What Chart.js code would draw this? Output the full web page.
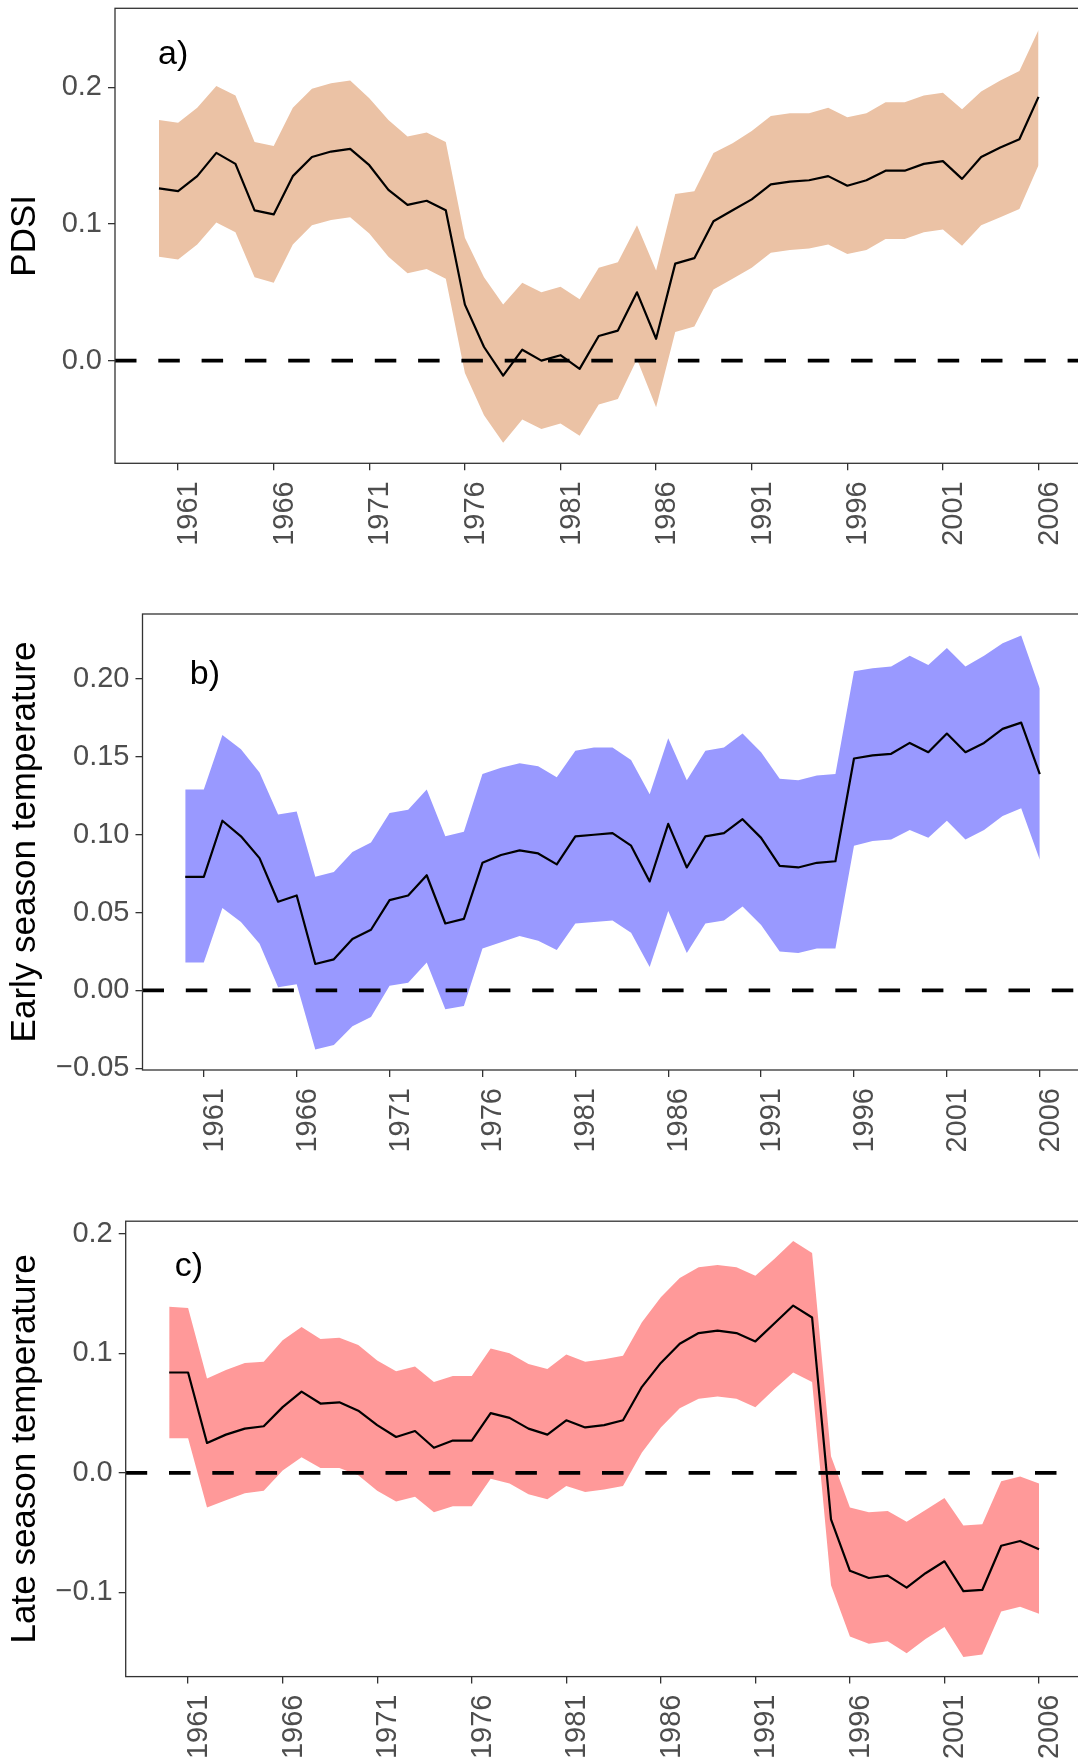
<!DOCTYPE html>
<html>
<head>
<meta charset="utf-8">
<title>PDSI and season temperature</title>
<script src="https://cdn.jsdelivr.net/npm/chart.js@4.4.1/dist/chart.umd.min.js"></script>
<style>
  html, body { margin: 0; padding: 0; background: #fff; width: 1078px; height: 1761px; overflow: hidden; }
  .panel { position: absolute; left: 0; }
  .panel canvas { display: block; }
</style>
</head>
<body>
<div class="panel" style="top:0"><canvas id="pdsiChart" width="1090" height="545"></canvas></div>
<div class="panel" style="top:560px"><canvas id="earlyChart" width="1090" height="600"></canvas></div>
<div class="panel" style="top:1165px"><canvas id="lateChart" width="1090" height="596"></canvas></div>
<script>
const years = [1960, 1961, 1962, 1963, 1964, 1965, 1966, 1967, 1968, 1969, 1970, 1971, 1972, 1973, 1974, 1975,
  1976, 1977, 1978, 1979, 1980, 1981, 1982, 1983, 1984, 1985, 1986, 1987, 1988, 1989, 1990, 1991,
  1992, 1993, 1994, 1995, 1996, 1997, 1998, 1999, 2000, 2001, 2002, 2003, 2004, 2005, 2006];
const yearTicks = [1961, 1966, 1971, 1976, 1981, 1986, 1991, 1996, 2001, 2006];

// a) PDSI
const pdsiMean = [0.126, 0.124, 0.135, 0.152, 0.144, 0.110, 0.107, 0.135, 0.149, 0.153, 0.155, 0.143, 0.125, 0.114, 0.117, 0.110,
  0.041, 0.010, -0.011, 0.008, 0.000, 0.004, -0.006, 0.018, 0.022, 0.050, 0.016, 0.071, 0.075, 0.102, 0.110, 0.118,
  0.129, 0.131, 0.132, 0.135, 0.128, 0.132, 0.139, 0.139, 0.144, 0.146, 0.133, 0.149, 0.156, 0.162, 0.193];
const pdsiUpper = [0.176, 0.174, 0.185, 0.201, 0.194, 0.160, 0.157, 0.185, 0.199, 0.203, 0.205, 0.192, 0.176, 0.164, 0.167, 0.160,
  0.090, 0.061, 0.041, 0.057, 0.050, 0.054, 0.045, 0.068, 0.072, 0.099, 0.066, 0.122, 0.124, 0.152, 0.159, 0.168,
  0.179, 0.181, 0.181, 0.185, 0.178, 0.181, 0.189, 0.189, 0.194, 0.196, 0.184, 0.197, 0.205, 0.212, 0.242];
const pdsiLower = [0.076, 0.074, 0.085, 0.101, 0.094, 0.061, 0.057, 0.085, 0.099, 0.103, 0.105, 0.093, 0.076, 0.064, 0.067, 0.060,
  -0.009, -0.040, -0.060, -0.043, -0.050, -0.046, -0.055, -0.032, -0.028, 0.001, -0.034, 0.021, 0.025, 0.052, 0.060, 0.068,
  0.079, 0.081, 0.082, 0.085, 0.078, 0.081, 0.089, 0.089, 0.094, 0.096, 0.084, 0.099, 0.105, 0.111, 0.143];
const pdsiTicks = [0, 0.1, 0.2];

// b) early season temperature
const earlyMean = [0.073, 0.073, 0.109, 0.099, 0.085, 0.057, 0.061, 0.017, 0.020, 0.033, 0.039, 0.058, 0.061, 0.074, 0.043, 0.046,
  0.082, 0.087, 0.090, 0.088, 0.081, 0.099, 0.100, 0.101, 0.093, 0.070, 0.107, 0.079, 0.099, 0.101, 0.110, 0.098,
  0.080, 0.079, 0.082, 0.083, 0.149, 0.151, 0.152, 0.159, 0.153, 0.165, 0.153, 0.159, 0.168, 0.172, 0.139];
const earlyUpper = [0.129, 0.129, 0.164, 0.155, 0.140, 0.113, 0.115, 0.073, 0.076, 0.089, 0.095, 0.114, 0.116, 0.129, 0.099, 0.102,
  0.139, 0.143, 0.146, 0.144, 0.137, 0.154, 0.156, 0.156, 0.148, 0.126, 0.162, 0.135, 0.154, 0.156, 0.165, 0.153,
  0.136, 0.135, 0.138, 0.139, 0.205, 0.207, 0.208, 0.215, 0.209, 0.220, 0.208, 0.215, 0.223, 0.228, 0.194];
const earlyLower = [0.018, 0.018, 0.053, 0.044, 0.030, 0.002, 0.004, -0.038, -0.035, -0.023, -0.017, 0.003, 0.005, 0.018, -0.012, -0.010,
  0.027, 0.031, 0.035, 0.032, 0.026, 0.043, 0.044, 0.045, 0.037, 0.015, 0.051, 0.024, 0.043, 0.045, 0.054, 0.042,
  0.025, 0.024, 0.027, 0.027, 0.093, 0.096, 0.097, 0.103, 0.098, 0.109, 0.097, 0.103, 0.112, 0.117, 0.084];
const earlyTicks = [-0.05, 0, 0.05, 0.1, 0.15, 0.2];

// c) late season temperature
const lateMean = [0.084, 0.084, 0.025, 0.032, 0.037, 0.039, 0.055, 0.068, 0.058, 0.059, 0.052, 0.040, 0.030, 0.035, 0.021, 0.027,
  0.027, 0.050, 0.046, 0.037, 0.032, 0.044, 0.038, 0.040, 0.044, 0.072, 0.092, 0.108, 0.117, 0.119, 0.117, 0.110,
  0.125, 0.140, 0.130, -0.039, -0.082, -0.088, -0.086, -0.096, -0.084, -0.074, -0.099, -0.098, -0.061, -0.057, -0.064];
const lateUpper = [0.139, 0.138, 0.079, 0.086, 0.092, 0.093, 0.111, 0.122, 0.112, 0.113, 0.107, 0.094, 0.085, 0.089, 0.076, 0.081,
  0.081, 0.104, 0.100, 0.091, 0.087, 0.099, 0.093, 0.095, 0.098, 0.126, 0.147, 0.163, 0.172, 0.174, 0.172, 0.165,
  0.179, 0.194, 0.184, 0.014, -0.029, -0.033, -0.032, -0.041, -0.031, -0.021, -0.044, -0.043, -0.007, -0.003, -0.009];
const lateLower = [0.029, 0.029, -0.029, -0.023, -0.017, -0.015, 0.002, 0.013, 0.004, 0.004, -0.002, -0.015, -0.024, -0.020, -0.033, -0.028,
  -0.028, -0.005, -0.009, -0.018, -0.022, -0.011, -0.016, -0.014, -0.011, 0.017, 0.038, 0.054, 0.062, 0.064, 0.062, 0.055,
  0.070, 0.084, 0.076, -0.094, -0.137, -0.143, -0.141, -0.151, -0.139, -0.129, -0.154, -0.152, -0.116, -0.112, -0.118];
const lateTicks = [-0.1, 0, 0.1, 0.2];

const xMin = 1957.7;
const xMax = 2008.3;
const fontFamily = '"Liberation Sans", Arial, Helvetica, sans-serif';

function toPoints(values) {
  return years.map((yr, i) => ({ x: yr, y: values[i] }));
}

function formatTick(value, decimals) {
  const text = Math.abs(value) < 1e-9 ? (0).toFixed(decimals) : value.toFixed(decimals);
  return text.replace("-", "\u2212");
}

// frame round the panel plus the a)/b)/c) tag
const panelDecor = {
  id: "panelDecor",
  afterDatasetsDraw(chart, args, opts) {
    const { ctx, chartArea, scales } = chart;
    ctx.save();
    ctx.strokeStyle = "#333333";
    ctx.lineWidth = 1.3;
    ctx.strokeRect(chartArea.left, chartArea.top, chartArea.right - chartArea.left, chartArea.bottom - chartArea.top);
    ctx.fillStyle = "#000";
    ctx.font = `34px ${fontFamily}`;
    ctx.textAlign = "left";
    ctx.textBaseline = "alphabetic";
    ctx.fillText(opts.text, scales.x.getPixelForValue(opts.x), scales.y.getPixelForValue(opts.y));
    ctx.restore();
  }
};

function createPanel(canvasId, cfg) {
  const tickGrid = { drawOnChartArea: false, drawTicks: true, tickLength: 7, color: "#333333", lineWidth: 1.3 };

  new Chart(document.getElementById(canvasId), {
    type: "line",
    data: {
      datasets: [
        {
          label: "upper",
          data: toPoints(cfg.upper),
          borderWidth: 0,
          borderColor: "rgba(0,0,0,0)",
          backgroundColor: cfg.fill,
          pointRadius: 0,
          fill: "+1",
          order: 3
        },
        {
          label: "lower",
          data: toPoints(cfg.lower),
          borderWidth: 0,
          borderColor: "rgba(0,0,0,0)",
          pointRadius: 0,
          fill: false,
          order: 4
        },
        {
          label: "zero",
          data: [{ x: xMin, y: 0 }, { x: xMax, y: 0 }],
          borderColor: "#000",
          borderWidth: 3.7,
          borderDash: [21.5, 21.8],
          borderCapStyle: "butt",
          pointRadius: 0,
          fill: false,
          order: 1
        },
        {
          label: "mean",
          data: toPoints(cfg.mean),
          borderColor: "#000",
          borderWidth: 2.2,
          borderJoinStyle: "round",
          pointRadius: 0,
          fill: false,
          tension: 0,
          order: 0
        }
      ]
    },
    options: {
      responsive: false,
      animation: false,
      layout: { padding: { top: cfg.padTop, left: 0, right: 7.5, bottom: 0 } },
      plugins: {
        legend: { display: false },
        tooltip: { enabled: false },
        panelDecor: cfg.tag
      },
      scales: {
        x: {
          type: "linear",
          min: xMin,
          max: xMax,
          afterBuildTicks: (scale) => { scale.ticks = yearTicks.map((v) => ({ value: v })); },
          afterFit: (scale) => {
            scale.height = cfg.xAxisHeight;
            scale.paddingLeft = 0;
            scale.paddingRight = 0;
          },
          ticks: {
            autoSkip: false,
            minRotation: 90,
            maxRotation: 90,
            padding: 11,
            labelOffset: 11,
            color: "#4d4d4d",
            font: { size: 29, family: fontFamily },
            callback: (v) => String(v)
          },
          grid: tickGrid,
          border: { display: false }
        },
        y: {
          min: cfg.yMin,
          max: cfg.yMax,
          afterBuildTicks: (scale) => { scale.ticks = cfg.yTicks.map((v) => ({ value: v })); },
          afterFit: (scale) => {
            scale.width = cfg.axisWidth;
            scale.paddingTop = 0;
            scale.paddingBottom = 0;
          },
          ticks: {
            padding: 6,
            color: "#4d4d4d",
            font: { size: 29, family: fontFamily },
            callback: (v) => formatTick(v, cfg.decimals)
          },
          grid: tickGrid,
          border: { display: false },
          title: {
            display: true,
            text: cfg.title,
            color: "#000",
            font: { size: 35, family: fontFamily },
            padding: { top: 4, bottom: 0 }
          }
        }
      }
    },
    plugins: [panelDecor]
  });
}

createPanel("pdsiChart", {
  mean: pdsiMean, upper: pdsiUpper, lower: pdsiLower,
  fill: "rgb(235,194,165)",
  yMin: -0.0751, yMax: 0.2578, yTicks: pdsiTicks, decimals: 1,
  title: "PDSI",
  tag: { text: "a)", x: 1959.95, y: 0.217 },
  axisWidth: 115, padTop: 8.3, xAxisHeight: 81.7
});

createPanel("earlyChart", {
  mean: earlyMean, upper: earlyUpper, lower: earlyLower,
  fill: "rgb(153,153,255)",
  yMin: -0.0511, yMax: 0.2418, yTicks: earlyTicks, decimals: 2,
  title: "Early season temperature",
  tag: { text: "b)", x: 1960.25, y: 0.197 },
  axisWidth: 142.5, padTop: 54, xAxisHeight: 90
});

createPanel("lateChart", {
  mean: lateMean, upper: lateUpper, lower: lateLower,
  fill: "rgb(255,153,153)",
  yMin: -0.1705, yMax: 0.2106, yTicks: lateTicks, decimals: 1,
  title: "Late season temperature",
  tag: { text: "c)", x: 1960.3, y: 0.1645 },
  axisWidth: 125.7, padTop: 56.2, xAxisHeight: 84.4
});
</script>
</body>
</html>
